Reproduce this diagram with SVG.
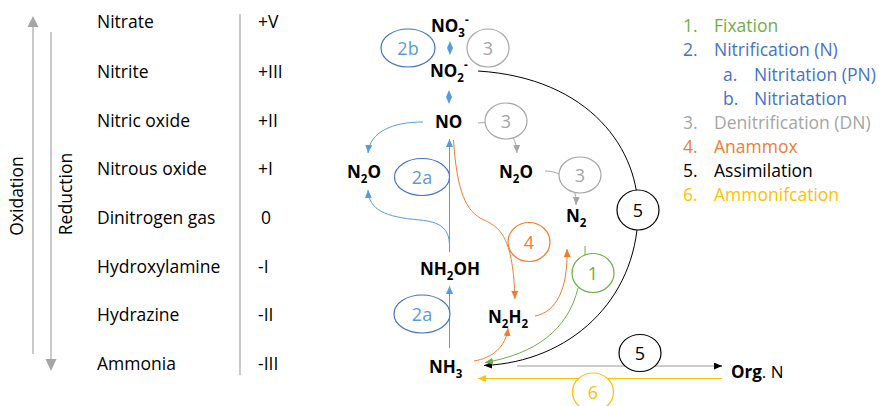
<svg xmlns="http://www.w3.org/2000/svg" width="881" height="406" viewBox="0 0 881 406">
  <style>
    text { font-family: "Open Sans", "Liberation Sans", sans-serif; }
    .lbl { font-size: 17.5px; fill: #000; }
    .chem { font-size: 17px; font-weight: bold; fill: #000; }
    .sub { font-size: 11.5px; font-weight: bold; }
    .num { font-size: 18px; text-anchor: middle; }
    .ring { fill: #fff; stroke-width: 1.2; }
    .conn { fill: none; stroke-width: 1; }
    .axis { stroke: #a6a6a6; stroke-width: 1.2; fill: none; }
    .green { fill: #70ad47; } .blue { fill: #4472c4; } .lblue { fill: #5b9bd5; }
    .gray { fill: #a5a5a5; } .orange { fill: #ed7d31; } .gold { fill: #ffc000; }
  </style>
  <defs>
    <marker id="aBlue" markerUnits="userSpaceOnUse" markerWidth="8" markerHeight="7" refX="8" refY="3.5" orient="auto"><path d="M0,0 L8,3.5 L0,7 z" fill="#5b9bd5"/></marker>
    <marker id="aOrange" markerUnits="userSpaceOnUse" markerWidth="8" markerHeight="7" refX="8" refY="3.5" orient="auto"><path d="M0,0 L8,3.5 L0,7 z" fill="#ed7d31"/></marker>
    <marker id="aGreen" markerUnits="userSpaceOnUse" markerWidth="8" markerHeight="7" refX="8" refY="3.5" orient="auto"><path d="M0,0 L8,3.5 L0,7 z" fill="#70ad47"/></marker>
    <marker id="aGray" markerUnits="userSpaceOnUse" markerWidth="8" markerHeight="7" refX="8" refY="3.5" orient="auto"><path d="M0,0 L8,3.5 L0,7 z" fill="#a5a5a5"/></marker>
    <marker id="aBlack" markerUnits="userSpaceOnUse" markerWidth="8" markerHeight="7" refX="8" refY="3.5" orient="auto"><path d="M0,0 L8,3.5 L0,7 z" fill="#000"/></marker>
    <marker id="aGold" markerUnits="userSpaceOnUse" markerWidth="8" markerHeight="7" refX="8" refY="3.5" orient="auto"><path d="M0,0 L8,3.5 L0,7 z" fill="#ffc000"/></marker>
  </defs>

  <!-- oxidation / reduction axes -->
  <g id="axes">
    <line class="axis" x1="33" y1="354" x2="33" y2="26"/>
    <polygon points="33,16 38.5,27 27.5,27" fill="#a6a6a6"/>
    <line class="axis" x1="51" y1="32" x2="51" y2="360"/>
    <polygon points="51,371 45.5,359 56.5,359" fill="#a6a6a6"/>
    <text class="lbl" text-anchor="middle" transform="translate(23,196) rotate(-90)">Oxidation</text>
    <text class="lbl" text-anchor="middle" transform="translate(72,194) rotate(-90)">Reduction</text>
    <line class="axis" x1="240" y1="14" x2="240" y2="375"/>
  </g>

  <!-- species and oxidation states -->
  <g id="table" class="lbl">
    <text x="97" y="28">Nitrate</text><text x="258" y="28">+V</text>
    <text x="97" y="77.5">Nitrite</text><text x="258" y="77.5">+III</text>
    <text x="97" y="126.5">Nitric oxide</text><text x="258" y="126.5">+II</text>
    <text x="97" y="175">Nitrous oxide</text><text x="258" y="175">+I</text>
    <text x="97" y="224">Dinitrogen gas</text><text x="261" y="224">0</text>
    <text x="97" y="272.5">Hydroxylamine</text><text x="258" y="272.5">-I</text>
    <text x="97" y="321">Hydrazine</text><text x="258" y="321">-II</text>
    <text x="97" y="369.5">Ammonia</text><text x="258" y="369.5">-III</text>
  </g>

  <!-- process legend -->
  <g id="legend" class="lbl">
    <text class="green" x="683" y="31.5">1.</text><text class="green" x="714" y="31.5">Fixation</text>
    <text class="blue" x="683" y="56">2.</text><text class="blue" x="714" y="56">Nitrification (N)</text>
    <text class="blue" x="723" y="80.5">a.</text><text class="blue" x="754" y="80.5">Nitritation (PN)</text>
    <text class="blue" x="723" y="104.5">b.</text><text class="blue" x="754" y="104.5">Nitriatation</text>
    <text class="gray" x="683" y="128.5">3.</text><text class="gray" x="714" y="128.5">Denitrification (DN)</text>
    <text class="orange" x="683" y="153">4.</text><text class="orange" x="714" y="153">Anammox</text>
    <text x="683" y="177">5.</text><text x="714" y="177">Assimilation</text>
    <text class="gold" x="683" y="201">6.</text><text class="gold" x="714" y="201">Ammonifcation</text>
  </g>

  <!-- connectors -->
  <g id="connectors">
    <!-- assimilation loop NO2- to NH3 -->
    <path class="conn" stroke="#000" d="M478,71 C590,78 640,150 638,215 C636,300 570,362 484,365.5" marker-end="url(#aBlack)"/>
    <!-- NH3 to organic N -->
    <line class="conn" stroke="#9a9a9a" stroke-width="1.6" x1="517" y1="366" x2="716" y2="366"/>
    <line class="conn" stroke="#000" x1="714" y1="366" x2="722" y2="366" marker-end="url(#aBlack)"/>
    <!-- organic N to NH3 -->
    <line class="conn" stroke="#ffc000" x1="722" y1="378.5" x2="478" y2="378.5" marker-end="url(#aGold)"/>
    <!-- nitrification -->
    <line class="conn" stroke="#5b9bd5" x1="449.5" y1="348" x2="449.5" y2="286" marker-end="url(#aBlue)"/>
    <line class="conn" stroke="#5b9bd5" x1="449.5" y1="252" x2="449.5" y2="139" marker-end="url(#aBlue)"/>
    <path class="conn" stroke="#5b9bd5" d="M449.5,245 C449,228 440,222 420,220 C385,217 369,210 368,190" marker-end="url(#aBlue)"/>
    <path class="conn" stroke="#5b9bd5" d="M423,122 C392,122 370,132 368,153" marker-end="url(#aBlue)"/>
    <!-- denitrification -->
    <path class="conn" stroke="#a5a5a5" d="M478,123 C495,121 516,128 517,153" marker-end="url(#aGray)"/>
    <path class="conn" stroke="#a5a5a5" d="M545,171 C560,171 577,180 576,205" marker-end="url(#aGray)"/>
    <!-- anammox -->
    <path class="conn" stroke="#ed7d31" d="M453.5,140 C457,192 466,212 484,220 C502,228 513,240 515,299" marker-end="url(#aOrange)"/>
    <path class="conn" stroke="#ed7d31" d="M535,316 C556,312 568,290 567,249" marker-end="url(#aOrange)"/>
    <path class="conn" stroke="#ed7d31" d="M474,361 C492,358 506,347 508,328" marker-end="url(#aOrange)"/>
    <!-- fixation -->
    <path class="conn" stroke="#70ad47" d="M585,246 L585,258"/>
    <path class="conn" stroke="#70ad47" d="M578,288 C568,330 535,354 485,362.5" marker-end="url(#aGreen)"/>
    <!-- nitrate/nitrite exchange -->
    <polygon points="450,41 453,48 450,55 447,48" fill="#5b9bd5"/>
    <polygon points="449,90 452,97 449,104 446,97" fill="#5b9bd5"/>
  </g>

  <!-- compounds -->
  <g id="no3"><text class="chem" x="431" y="32">NO<tspan class="sub" dy="5">3</tspan><tspan class="sub" dy="-13">-</tspan></text></g>
  <g id="no2"><text class="chem" x="430" y="77">NO<tspan class="sub" dy="5">2</tspan><tspan class="sub" dy="-13">-</tspan></text></g>
  <g id="no"><text class="chem" x="435" y="128">NO</text></g>
  <g id="n2o-left"><text class="chem" x="347" y="178">N<tspan class="sub" dy="5">2</tspan><tspan dy="-5">O</tspan></text></g>
  <g id="n2o-mid"><text class="chem" x="499" y="178">N<tspan class="sub" dy="5">2</tspan><tspan dy="-5">O</tspan></text></g>
  <g id="n2"><text class="chem" x="566" y="222">N<tspan class="sub" dy="5">2</tspan></text></g>
  <g id="nh2oh"><text class="chem" x="420" y="275">NH<tspan class="sub" dy="5">2</tspan><tspan dy="-5">OH</tspan></text></g>
  <g id="n2h2"><text class="chem" x="488" y="323">N<tspan class="sub" dy="5">2</tspan><tspan dy="-5">H</tspan><tspan class="sub" dy="5">2</tspan></text></g>
  <g id="nh3"><text class="chem" x="429" y="373">NH<tspan class="sub" dy="5">3</tspan></text></g>
  <g id="orgn"><text class="chem" x="731" y="378">Org<tspan font-weight="normal">. N</tspan></text></g>

  <!-- process markers -->
  <g id="p2b"><ellipse class="ring" cx="408" cy="48" rx="27" ry="19" stroke="#4472c4"/><text class="num lblue" x="408" y="54.5">2b</text></g>
  <g id="p3-top"><ellipse class="ring" cx="488" cy="48" rx="21" ry="19" stroke="#a5a5a5"/><text class="num gray" x="488" y="54.5">3</text></g>
  <g id="p3-no"><ellipse class="ring" cx="506" cy="121" rx="21" ry="18" stroke="#a5a5a5"/><text class="num gray" x="506" y="127.5">3</text></g>
  <g id="p3-n2o"><ellipse class="ring" cx="580" cy="175" rx="21" ry="18" stroke="#a5a5a5"/><text class="num gray" x="580" y="181.5">3</text></g>
  <g id="p2a-top"><ellipse class="ring" cx="422" cy="177" rx="27.5" ry="18.5" stroke="#4472c4"/><text class="num lblue" x="422" y="183.5">2a</text></g>
  <g id="p2a-bottom"><ellipse class="ring" cx="422" cy="314" rx="28" ry="19" stroke="#4472c4"/><text class="num lblue" x="422" y="320.5">2a</text></g>
  <g id="p4"><ellipse class="ring" cx="529" cy="242" rx="21" ry="19.5" stroke="#ed7d31"/><text class="num orange" x="529" y="248.5">4</text></g>
  <g id="p1"><ellipse class="ring" cx="593" cy="273" rx="21" ry="19.5" stroke="#70ad47"/><text class="num green" x="593" y="279.5">1</text></g>
  <g id="p5-loop"><ellipse class="ring" cx="638" cy="210" rx="21" ry="20" stroke="#000"/><text class="num" x="638" y="216.5">5</text></g>
  <g id="p5-org"><ellipse class="ring" cx="640" cy="353" rx="21" ry="18.5" stroke="#000"/><text class="num" x="640" y="359.5">5</text></g>
  <g id="p6"><ellipse class="ring" cx="593" cy="392" rx="20.5" ry="19" stroke="#ffc000"/><text class="num gold" x="593" y="398.5">6</text></g>
</svg>
